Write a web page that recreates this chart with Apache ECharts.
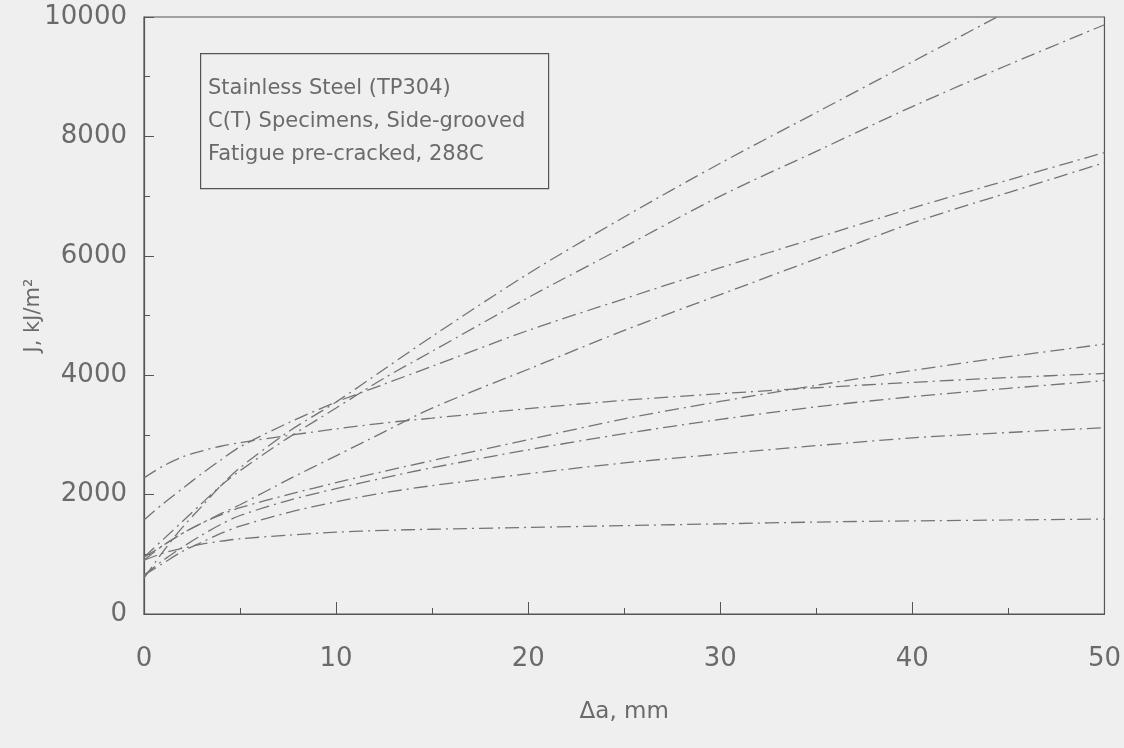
<!DOCTYPE html>
<html>
<head>
<meta charset="utf-8">
<script src="https://cdn.jsdelivr.net/npm/echarts@6/dist/echarts.min.js"></script>
<style>
html,body{margin:0;padding:0;background:#efefef;}
#chart{width:1124px;height:748px;}
</style>
</head>
<body>
<div id="chart"></div>
<script>
// Crack extension, mm
var crackExt = [0, 1, 2, 3, 4, 5, 7.5, 10, 12.5, 15, 20, 25, 30, 35, 40, 45, 50];
// J values, kJ/m^2 (one array per specimen curve)
var curveA = [600, 1050, 1450, 1800, 2150, 2450, 3050, 3550, 4100, 4650, 5700, 6650, 7550, 8400, 9250, 10100, null];
var curveB = [950, 1250, 1550, 1850, 2150, 2400, 2950, 3450, 3950, 4400, 5300, 6150, 7000, 7750, 8500, 9200, 9870];
var curveC = [1575, 1850, 2100, 2350, 2580, 2800, 3200, 3550, 3850, 4150, 4750, 5280, 5800, 6300, 6800, 7270, 7730];
var curveD = [950, 1150, 1350, 1520, 1680, 1830, 2250, 2650, 3050, 3450, 4100, 4750, 5350, 5950, 6550, 7060, 7560];
var curveE = [900, 1150, 1350, 1520, 1660, 1780, 2000, 2200, 2390, 2570, 2920, 3270, 3560, 3830, 4080, 4310, 4520];
var curveF = [2280, 2480, 2630, 2730, 2810, 2870, 2990, 3100, 3200, 3280, 3440, 3580, 3690, 3790, 3880, 3960, 4030];
var curveG = [650, 900, 1120, 1320, 1500, 1650, 1900, 2100, 2280, 2450, 2750, 3020, 3260, 3470, 3640, 3780, 3910];
var curveH = [650, 850, 1050, 1200, 1350, 1470, 1700, 1880, 2030, 2150, 2350, 2530, 2680, 2820, 2950, 3040, 3120];
var curveI = [900, 1020, 1100, 1170, 1220, 1260, 1320, 1370, 1400, 1420, 1450, 1480, 1510, 1540, 1560, 1575, 1590];
var curves = [curveA, curveB, curveC, curveD, curveE, curveF, curveG, curveH, curveI];
var boxLines = ['Stainless Steel (TP304)', 'C(T) Specimens, Side-grooved', 'Fatigue pre-cracked, 288C'];

var FONT = 'DejaVu Sans';
var TXT = '#6a6a6a';
var AX = '#555555';

function pairs(ys) {
  return crackExt.map(function (x, i) { return [x, ys[i]]; });
}

var series = curves.map(function (c) {
  return {
    type: 'line',
    data: pairs(c),
    smooth: 0.3,
    showSymbol: false,
    clip: true,
    connectNulls: false,
    lineStyle: { color: '#747474', width: 1.3, type: [14, 5, 2, 5] }
  };
});

var chart = echarts.init(document.getElementById('chart'), null, { renderer: 'canvas' });
chart.setOption({
  backgroundColor: '#efefef',
  animation: false,
  grid: { left: 144, right: 19, top: 17, bottom: 134, show: true, borderColor: AX, borderWidth: 1.2, containLabel: false },
  xAxis: {
    type: 'value', min: 0, max: 50, interval: 10,
    name: 'Δa, mm', nameLocation: 'middle', nameGap: 87, nameMoveOverlap: false,
    nameTextStyle: { fontFamily: FONT, fontSize: 23, color: TXT },
    axisLine: { show: true, lineStyle: { color: AX, width: 1.2 } },
    axisTick: { show: true, inside: true, length: 12, lineStyle: { color: AX } },
    minorTick: { show: true, splitNumber: 2, length: 6, lineStyle: { color: AX } },
    splitLine: { show: false },
    axisLabel: { fontFamily: FONT, fontSize: 26, color: TXT, margin: 32 }
  },
  yAxis: {
    type: 'value', min: 0, max: 10000, interval: 2000,
    name: 'J, kJ/m²', nameLocation: 'middle', nameGap: 100, nameMoveOverlap: false,
    nameTextStyle: { fontFamily: FONT, fontSize: 21, color: TXT },
    axisLine: { show: true, lineStyle: { color: AX, width: 1.2 } },
    axisTick: { show: true, inside: true, length: 10, lineStyle: { color: AX } },
    minorTick: { show: true, splitNumber: 2, length: 6, lineStyle: { color: AX } },
    splitLine: { show: false },
    axisLabel: { fontFamily: FONT, fontSize: 26, color: TXT, margin: 17,
      formatter: function (v) { return String(v); } }
  },
  graphic: [
    {
      type: 'rect', left: 200, top: 53, z: 10,
      shape: { width: 348, height: 135 },
      style: { fill: '#efefef', stroke: AX, lineWidth: 1.2 }
    }
  ].concat(boxLines.map(function (t, i) {
    return {
      type: 'text', left: 208, top: 78 + i * 33, z: 11,
      style: { text: t, fontFamily: FONT, fontSize: 21, fill: TXT }
    };
  })),
  series: series
});
</script>
</body>
</html>
